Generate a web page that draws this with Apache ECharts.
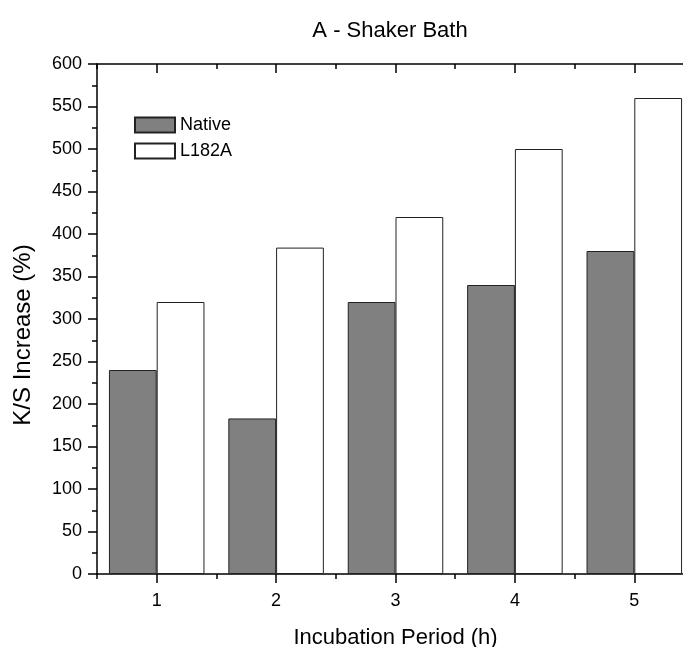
<!DOCTYPE html>
<html>
<head>
<meta charset="utf-8">
<style>html,body{margin:0;padding:0;background:#fff;overflow:hidden;}#c{width:683px;height:647px;}</style>
<script src="https://cdn.jsdelivr.net/npm/echarts@6/dist/echarts.min.js"></script>
</head>
<body>
<div id="c"></div>
<script>
var categories = ['1', '2', '3', '4', '5'];
var nativeValues = [240, 183, 320, 340, 380];
var l182aValues = [320, 384, 420, 500, 560];
var seriesNames = ['Native', 'L182A'];

var FONT = '"Liberation Sans", Arial, sans-serif';
var chart = echarts.init(document.getElementById('c'), null, {renderer: 'canvas'});
var lineStyle = {color: '#000', width: 1.5};
function hiddenCat(pos, len, inside, align, showLine) {
  return {
    type: 'category', data: categories, gridIndex: 0, position: pos,
    axisLine: {show: showLine, lineStyle: lineStyle},
    axisTick: {show: true, alignWithLabel: align, inside: inside, length: len, interval: 0, lineStyle: lineStyle},
    axisLabel: {show: false}, splitLine: {show: false}
  };
}
chart.setOption({
  animation: false,
  backgroundColor: '#fff',
  title: {
    text: 'A - Shaker Bath', left: 385, top: 15, textAlign: 'center',
    textStyle: {fontFamily: FONT, fontSize: 22, fontWeight: 'normal', color: '#000'}
  },
  legend: {
    orient: 'vertical', left: 134, top: 116, padding: 0, itemWidth: 40, itemHeight: 15, itemGap: 8,
    icon: 'rect',
    data: seriesNames,
    textStyle: {fontFamily: FONT, fontSize: 18, color: '#000'}
  },
  grid: {left: 97, top: 64, width: 597, bottom: 73, containLabel: false, outerBoundsMode: 'none'},
  graphic: [{
    type: 'text', x: 23, y: 335, rotation: Math.PI / 2,
    style: {text: 'K/S Increase (%)', font: '24px ' + FONT, fill: '#000', align: 'center', verticalAlign: 'middle'}
  }],
  xAxis: [
    {
      type: 'category', data: categories, position: 'bottom',
      name: 'Incubation Period (h)', nameLocation: 'middle', nameGap: 53,
      nameTextStyle: {fontFamily: FONT, fontSize: 22, color: '#000'},
      axisLine: {show: true, lineStyle: lineStyle},
      axisTick: {show: true, alignWithLabel: true, length: 9, interval: 0, lineStyle: lineStyle},
      axisLabel: {fontFamily: FONT, fontSize: 18, color: '#000', margin: 18, interval: 0},
      splitLine: {show: false}
    },
    hiddenCat('bottom', 5, false, false, false),
    hiddenCat('top', 9, true, true, true),
    hiddenCat('top', 5, true, false, false)
  ],
  yAxis: {
    type: 'value', min: 0, max: 600, interval: 50,
    axisLine: {show: true, lineStyle: lineStyle},
    axisTick: {show: true, length: 9, lineStyle: lineStyle},
    minorTick: {show: true, splitNumber: 2, length: 5, lineStyle: lineStyle},
    axisLabel: {fontFamily: FONT, fontSize: 18, color: '#000', margin: 15},
    splitLine: {show: false}
  },
  series: [
    {
      name: seriesNames[0], type: 'bar', data: nativeValues,
      barGap: '0%', barCategoryGap: '20%',
      itemStyle: {color: '#808080', borderColor: '#222', borderWidth: 1}
    },
    {
      name: seriesNames[1], type: 'bar', data: l182aValues,
      barGap: '0%', barCategoryGap: '20%',
      itemStyle: {color: '#fff', borderColor: '#222', borderWidth: 1}
    }
  ]
});
</script>
</body>
</html>
